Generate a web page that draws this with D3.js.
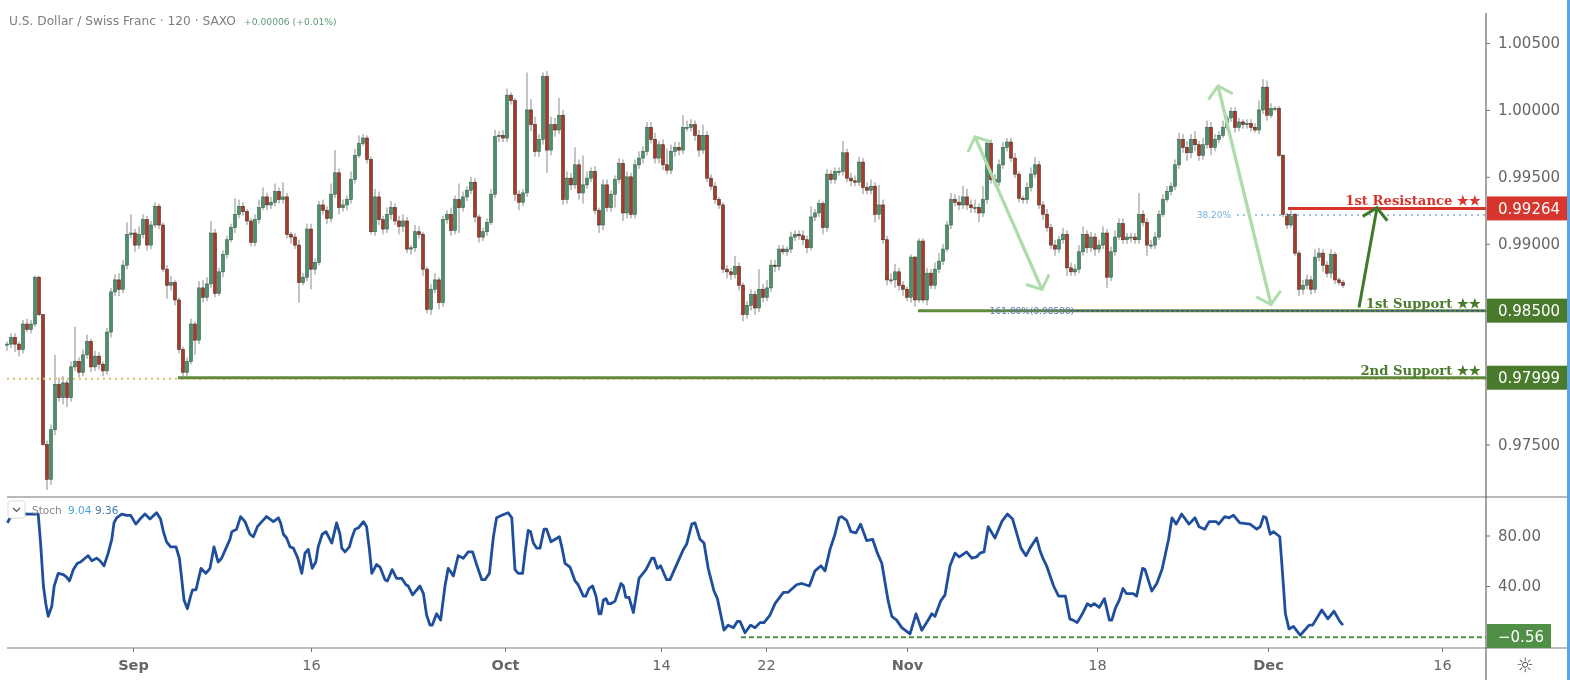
<!DOCTYPE html>
<html>
<head>
<meta charset="utf-8">
<title>USD/CHF</title>
<script src="https://cdn.jsdelivr.net/npm/d3@7"></script>
<style>
  html, body { margin: 0; padding: 0; background: #fff; overflow: hidden; }
  text { font-family: "DejaVu Sans", sans-serif; }
  /* the source is a soft upscaled screenshot */
  svg { filter: blur(0.45px); }
</style>
</head>
<body>
<svg id="chart" width="1570" height="694"></svg>
<script>
// Candle closes, one per bar. Each bar opens at the previous close.
const closes = [
  .9825,.9830,.9825,.9821,.9840,.9836,.9840,.9875,.9847,.9750,
  .9724,.9761,.9795,.9785,.9796,.9785,.9808,.9812,.9804,.9817,
  .9827,.9808,.9816,.9810,.9805,.9834,.9864,.9873,.9866,.9884,
  .9907,.9908,.9899,.9907,.9918,.9899,.9914,.9928,.9914,.9881,
  .9869,.9871,.9858,.9821,.9804,.9812,.9840,.9828,.9867,.9860,
  .9870,.9908,.9863,.9879,.9892,.9903,.9912,.9922,.9928,.9924,
  .9917,.9901,.9918,.9927,.9935,.9929,.9931,.9939,.9933,.9935,
  .9907,.9905,.9899,.9871,.9875,.9911,.9881,.9886,.9929,.9925,
  .9919,.9937,.9953,.9927,.9929,.9933,.9948,.9966,.9975,.9979,
  .9963,.9909,.9935,.9918,.9911,.9922,.9927,.9917,.9913,.9917,
  .9896,.9897,.9909,.9907,.9881,.9851,.9866,.9873,.9856,.9918,
  .9922,.9910,.9933,.9927,.9935,.9940,.9946,.9920,.9905,.9909,
  .9916,.9937,.9980,.9981,.9979,1.0011,1.0007,.9937,.9931,.9938,
  1.0000,.9989,.9969,.9978,1.0025,.9970,.9989,.9985,.9996,.9933,
  .9949,.9944,.9959,.9938,.9944,.9949,.9954,.9925,.9914,.9944,
  .9927,.9937,.9948,.9960,.9923,.9950,.9922,.9959,.9964,.9969,
  .9987,.9978,.9964,.9974,.9959,.9955,.9969,.9972,.9970,.9987,
  .9987,.9989,.9981,.9970,.9981,.9949,.9943,.9933,.9929,.9881,
  .9879,.9877,.9883,.9869,.9847,.9854,.9862,.9852,.9866,.9860,
  .9867,.9884,.9883,.9896,.9894,.9896,.9905,.9907,.9906,.9903,
  .9897,.9920,.9923,.9930,.9912,.9952,.9948,.9954,.9954,.9968,
  .9949,.9947,.9946,.9961,.9942,.9940,.9943,.9922,.9929,.9903,
  .9873,.9873,.9879,.9869,.9866,.9860,.9890,.9858,.9902,.9858,
  .9878,.9869,.9881,.9887,.9896,.9914,.9933,.9931,.9929,.9935,
  .9929,.9927,.9927,.9923,.9933,.9975,.9948,.9946,.9959,.9972,
  .9976,.9964,.9952,.9934,.9933,.9942,.9952,.9959,.9929,.9922,
  .9912,.9899,.9896,.9903,.9907,.9882,.9879,.9881,.9894,.9907,
  .9897,.9905,.9896,.9899,.9908,.9875,.9894,.9905,.9915,.9903,
  .9905,.9905,.9903,.9922,.9916,.9899,.9899,.9905,.9922,.9933,
  .9939,.9943,.9959,.9978,.9972,.9968,.9978,.9974,.9966,.9974,
  .9987,.9972,.9978,.9981,.9987,.9994,.9999,.9987,.9991,.9989,
  .9990,.9987,.9985,1.0000,1.0017,.9996,1.0001,1.0001,.9966,.9922,
  .9914,.9922,.9893,.9866,.9869,.9873,.9866,.9890,.9893,.9884,
  .9878,.9892,.9873,.9871,.9869
];
// Upper and lower wick lengths in pips, bar by bar.
const wickUp = [
  2,3,3,2,3,4,3,1,1,0, 3,4,22,5,5,2,4,26,3,4, 5,2,4,3,2,3,3,4,5,4,
  9,14,3,6,4,3,3,3,2,2, 3,5,2,2,2,3,4,2,5,6, 5,9,3,3,3,3,3,12,5,3,
  2,2,4,6,7,3,4,6,3,11, 3,2,3,4,3,4,4,3,3,4, 3,8,17,3,4,3,6,5,6,3,
  2,2,6,4,3,5,5,3,4,5, 3,2,5,4,2,2,4,5,2,3, 3,5,3,12,4,3,4,3,2,3,
  3,4,5,3,4,5,2,2,3,3, 28,8,6,4,3,4,6,5,13,4, 5,4,13,4,22,5,3,4,2,4,
  4,3,3,4,3,4,3,4,5,4, 4,4,5,3,4,12,5,4,4,9, 5,4,3,4,8,3,3,3,2,2,
  3,3,8,3,2,3,4,3,15,4, 6,4,4,3,3,2,4,3,3,4, 3,8,3,3,2,4,3,3,3,9,
  3,4,4,4,3,4,5,3,15,4, 3,5,6,3,3,2,2,1,2,2, 4,3,5,6,4,3,5,4,5,8,
  6,4,6,3,10,2,3,4,4,4, 3,3,4,2,2,4,5,6,3,3, 4,3,4,3,5,3,4,4,5,6,
  3,4,3,4,5,3,4,5,4,4, 3,3,3,16,3,3,4,4,3,4, 4,3,4,5,4,5,4,6,3,5,
  5,4,4,3,5,2,3,3,3,2, 3,3,3,7,6,5,4,2,2,1, 1,3,1,2,4,4,3,6,4,3,
  3,4,2,2,2
];
const wickDown = [
  5,3,6,5,3,2,3,2,1,1, 8,4,4,3,5,7,3,3,4,3, 3,4,3,4,4,3,4,3,5,3,
  3,3,5,3,3,4,3,2,3,2, 10,4,4,3,3,3,2,11,3,4, 3,3,3,2,4,3,2,4,3,3,
  3,3,3,3,2,4,3,3,3,3, 3,5,3,15,2,3,15,4,2,3, 4,3,3,5,3,4,3,3,2,2,
  3,2,3,4,4,3,4,3,6,4, 3,4,3,3,5,3,4,3,5,3, 3,4,3,19,3,3,3,4,4,3,
  3,2,3,4,3,3,3,5,6,3, 3,5,4,4,4,17,4,5,3,4, 3,4,3,5,8,3,3,3,6,4,
  3,3,10,3,6,4,3,3,3,4, 3,3,4,4,4,3,3,4,4,3, 3,3,4,5,3,3,3,3,3,3,
  5,4,3,4,5,3,4,5,3,4, 3,3,4,3,2,3,3,3,3,4, 4,2,3,3,5,3,3,3,3,3,
  3,4,3,3,5,3,3,6,4,3, 4,3,6,4,5,3,4,5,2,2, 4,3,3,3,3,2,3,3,4,3,
  4,4,4,7,3,3,3,3,3,3, 3,3,3,3,3,3,3,3,3,4, 3,3,5,3,3,6,3,3,3,3,
  4,3,5,3,3,8,3,3,2,3, 3,4,3,3,3,8,3,3,2,2, 2,3,3,3,4,6,4,5,4,3,
  3,6,3,3,2,2,3,4,3,3, 3,3,2,3,3,4,2,2,1,2, 3,2,2,5,4,3,4,3,3,5,
  3,4,3,2,2
];

// Stochastic line: bar position and value
const stochBars = [
  .1,.75,3.25,4.9,6.6,7.8,8.4,9.1,9.7,10.3,11.2,11.8,12.8,14.1,14.9,15.6,16.6,17.6,18.4,19.5,
  20.3,21.2,22.4,23.25,24.25,25.3,26.2,26.75,27.4,28.7,29.9,30.9,32.2,33.25,34.5,35.75,37.4,38.4,39.1,39.9,
  40.9,42.25,43.1,43.7,44.25,45.1,45.9,46.4,47.25,48.5,49.7,50.75,51.75,52.8,53.65,54.9,55.75,56.2,57.4,58.4,
  59.5,60.75,61.6,62.6,63.7,64.9,66.6,67.85,68.4,69.1,69.9,70.75,71.6,72.7,73.7,74.5,75.3,76.3,77.2,77.8,
  78.8,79.75,81.2,82.4,83.25,83.7,84.5,85.6,86.2,87,87.85,89.1,89.9,90.6,91.2,92.4,93.25,94.5,95.1,96.3,
  97.4,98.7,99.75,100.3,101.4,103.25,104.1,104.9,105.75,106.3,107.4,108.4,109.5,110.3,111.6,112.8,114.1,115.3,116.4,117.4,
  118.7,119.5,120.6,121.6,122.4,123.7,125.3,126.2,127,127.8,128.9,129.5,130.3,130.9,131.6,132.4,133.25,134.25,134.9,136,
  138.1,138.7,139.5,140.75,142,142.8,144.1,144.7,145.5,146.4,147.25,148,148.5,149.1,149.75,150.3,150.9,152,153.5,154.1,
  154.7,155.5,156.6,158,159.75,161.2,161.75,162.6,163.4,164.9,165.75,167,169.1,169.9,171.2,172,173.25,174.25,175.3,176.75,
  177.6,178.4,179.25,180.3,181.6,182.6,183.25,184.5,185.9,187,188.25,189.25,190.75,192,194.1,195.3,197.4,198.7,200.6,202,
  203.5,204.5,205.75,207,208,208.7,209.9,211,212.25,213.4,214.9,216.4,217.6,218.7,220.3,221.2,222.4,223.7,225.75,227.25,
  228.7,230.3,231.2,232,233.4,234.5,235.75,237,238.1,239.9,241.2,242.4,243.25,244.25,245.3,247,248.7,250.1,251.4,252.4,
  253.5,254.75,255.75,257.4,258.25,259.1,259.9,261.65,262.9,264.6,265.7,266.5,267.55,268.85,270.1,270.95,271.8,273.05,274.35,275.6,
  276.2,277.05,278.1,279,279.85,281.55,282.4,283.9,284.5,286.2,287.45,288.75,290.4,291.25,292.3,293.65,295.5,297,298,299.45,
  300.55,302.3,302.9,304.45,305.5,306.65,308.2,310.75,312.45,313.3,314.15,314.8,315.8,316.65,318.2,318.75,319.6,320.5,321.6,323.3,
  325.55,326.4,328.7,330.2,331.75,333.2,334
];
const stochValues = [
  90,94,98,97,97,97,74,40,26,16,24,40,50,49,47,44,53,58,59,62,
  64,60,62,60,56,66,77,90,94,97,96,96,89,93,97,93,98,93,83,75,
  71,71,62,45,29,22,32,37,37,54,50,54,71,59,62,71,77,83,85,95,
  91,81,79,87,91,95,91,94,90,81,78,71,70,62,50,66,69,54,59,71,
  81,83,74,90,81,70,67,71,78,85,86,91,87,69,50,57,55,45,44,53,
  46,46,41,40,33,40,34,17,9,9,18,13,40,54,48,64,62,67,67,57,
  45,45,50,79,94,96,98,94,53,50,50,66,84,83,74,70,70,85,85,75,
  79,71,58,55,44,41,32,32,38,40,32,18,18,29,30,26,26,28,42,40,
  31,31,19,46,53,62,62,54,56,45,45,54,69,73,89,90,77,74,54,36,
  30,18,5,9,7,12,12,3,9,7,11,11,17,26,35,35,41,42,40,52,
  56,52,69,81,94,95,92,83,82,89,76,77,66,58,28,16,13,7,2,18,
  5,13,18,16,28,33,56,66,63,67,62,63,66,67,87,78,91,97,93,82,
  70,64,70,78,68,61,56,40,32,32,14,13,11,18,26,24,26,23,30,13,
  13,22,29,38,34,34,32,54,53,36,42,53,77,94,89,97,89,94,87,85,
  91,91,89,95,94,96,90,89,85,87,95,94,81,83,79,56,18,6,8,1,
  9,9,21,14,20,12,9
];

// Axis ticks
const priceTicks = [1.005, 1, 0.995, 0.99, 0.985, 0.98, 0.975];
const stochTicks = [40, 80];
const dateLabels = ['Sep', '16', 'Oct', '14', '22', 'Nov', '18', 'Dec', '16'];
const dateBars = [31.5, 76, 124.5, 163.5, 189.75, 225, 272.5, 315.25, 358.75];

// Price levels drawn on the chart
const resistance = 0.99264;
const support1 = 0.985;
const support2 = 0.97999;
const fib382 = 0.99215;
const stochLevel = -0.56;
const lastBar = 369.75;

// Arrows: [fromBar, fromPrice, toBar, toPrice, style]
const arrows = [
  [258.75, 0.98658, 242, 0.99799, 'light'],
  [242, 0.99799, 258.75, 0.98658, 'light'],
  [316, 0.98546, 302.75, 1.00179, 'light'],
  [302.75, 1.00179, 316, 0.98546, 'light'],
  [338, 0.98523, 342.5, 0.99269, 'dark']
];

const COLORS = {
  up: '#4f8f6e', upEdge: '#35644d',
  down: '#a63b2c', downEdge: '#55291f',
  wick: '#8a8a8a',
  red: '#d8352c',
  green: '#4a7a2c',
  olive: '#5f8a3a',
  stoch: '#1f4e9c',
  stochGreen: '#4f8f46',
  axisText: '#666'
};

const svg = d3.select('#chart');

const xScale = d3.scaleLinear().domain([0, lastBar]).range([7, 1486]);
const yScale = d3.scaleLinear().domain([0.975, 1.005]).range([444.5, 43]);
const yStoch = d3.scaleLinear().domain([0, 80]).range([636.5, 535.5]);

// Pane separators and right edge
svg.append('rect').attr('x', 1567).attr('y', 0).attr('width', 3).attr('height', 680).attr('fill', '#5aa5e6');
svg.append('line').attr('x1', 7).attr('x2', 1567).attr('y1', 497).attr('y2', 497)
  .attr('stroke', '#b9b9b9').attr('stroke-width', 2);
svg.append('line').attr('x1', 7).attr('x2', 1567).attr('y1', 648).attr('y2', 648)
  .attr('stroke', '#a8a8a8').attr('stroke-width', 1.5);

// Candles
const candles = closes.map((c, i) => {
  const o = i === 0 ? c : closes[i - 1];
  return {
    i, open: o, close: c,
    high: Math.max(o, c) + wickUp[i] / 10000,
    low: Math.min(o, c) - wickDown[i] / 10000
  };
});

svg.append('g').selectAll('line')
  .data(candles)
  .join('line')
  .attr('x1', d => xScale(d.i))
  .attr('x2', d => xScale(d.i))
  .attr('y1', d => yScale(d.high))
  .attr('y2', d => yScale(d.low))
  .attr('stroke', COLORS.wick)
  .attr('stroke-width', 1);

svg.append('g').selectAll('rect')
  .data(candles)
  .join('rect')
  .attr('x', d => xScale(d.i) - 1.5)
  .attr('width', 3)
  .attr('y', d => yScale(Math.max(d.open, d.close)))
  .attr('height', d => Math.max(1, Math.abs(yScale(d.open) - yScale(d.close))))
  .attr('fill', d => d.close >= d.open ? COLORS.up : COLORS.down)
  .attr('stroke', d => d.close >= d.open ? COLORS.upEdge : COLORS.downEdge)
  .attr('stroke-width', 0.6);

// Levels
const level = (bar0, bar1, price, color, width, dash) => svg.append('line')
  .attr('x1', xScale(bar0)).attr('x2', xScale(bar1))
  .attr('y1', yScale(price)).attr('y2', yScale(price))
  .attr('stroke', color).attr('stroke-width', width)
  .attr('stroke-dasharray', dash || null);

level(0, lastBar, support2 - 0.00008, '#dcbc6e', 2, '2,4');
level(42.75, lastBar, support2, COLORS.olive, 3);
level(227.75, lastBar, support1, COLORS.olive, 3);
level(266, lastBar, support1, '#3d4f9a', 1.5, '3,2');
level(320.25, lastBar, resistance, COLORS.red, 3);
level(307.5, lastBar, fib382, '#9cc6ea', 2, '2,4');

svg.append('text')
  .attr('x', xScale(306)).attr('y', yScale(fib382) + 3.5)
  .attr('text-anchor', 'end').attr('font-size', 9).attr('fill', '#7ab0dc')
  .text('38.20%');
svg.append('text')
  .attr('x', xScale(256.25)).attr('y', yScale(support1) + 3.5)
  .attr('text-anchor', 'middle').attr('font-size', 9).attr('fill', '#6070b8')
  .text('161.80%(0.98500)');

// Arrow heads
const defs = svg.append('defs');
[['light', '#aedcab'], ['dark', '#3f7a2a']].forEach(([name, color]) => {
  defs.append('marker')
    .attr('id', 'head-' + name)
    .attr('markerUnits', 'userSpaceOnUse')
    .attr('markerWidth', 32).attr('markerHeight', 32)
    .attr('refX', 15).attr('refY', 15)
    .attr('orient', 'auto')
    .append('path')
    .attr('d', 'M4,2.5 L15,15 L4,27.5')
    .attr('fill', 'none').attr('stroke', color).attr('stroke-width', 3);
});

svg.append('g').selectAll('line')
  .data(arrows)
  .join('line')
  .attr('x1', d => xScale(d[0])).attr('y1', d => yScale(d[1]))
  .attr('x2', d => xScale(d[2])).attr('y2', d => yScale(d[3]))
  .attr('stroke', d => d[4] === 'light' ? '#aedcab' : '#3f7a2a')
  .attr('stroke-width', 3)
  .attr('marker-end', d => `url(#head-${d[4]})`);

// Stochastic
const stochLine = d3.line().x(d => xScale(d[0])).y(d => yStoch(d[1]));
svg.append('path')
  .datum(d3.zip(stochBars, stochValues))
  .attr('d', stochLine)
  .attr('fill', 'none')
  .attr('stroke', COLORS.stoch)
  .attr('stroke-width', 2.8)
  .attr('stroke-linejoin', 'round');

svg.append('line')
  .attr('x1', xScale(183.5)).attr('x2', xScale(lastBar))
  .attr('y1', yStoch(stochLevel)).attr('y2', yStoch(stochLevel))
  .attr('stroke', COLORS.stochGreen).attr('stroke-width', 2)
  .attr('stroke-dasharray', '5,3');

// Axes
const styleAxis = g => {
  g.selectAll('text').attr('fill', COLORS.axisText).style('font-family', '"DejaVu Sans", sans-serif');
  g.selectAll('.tick line').attr('stroke', '#777');
};

svg.append('g')
  .attr('transform', 'translate(1486,0)')
  .call(d3.axisRight(yScale).tickValues(priceTicks).tickFormat(d3.format('.5f')).tickSize(4).tickPadding(8))
  .call(g => g.select('.domain').remove())
  .call(g => g.selectAll('text').attr('font-size', 15))
  .call(styleAxis);

svg.append('g')
  .attr('transform', 'translate(1486,0)')
  .call(d3.axisRight(yStoch).tickValues(stochTicks).tickFormat(d3.format('.2f')).tickSize(4).tickPadding(8))
  .call(g => g.select('.domain').remove())
  .call(g => g.selectAll('text').attr('font-size', 15))
  .call(styleAxis);

svg.append('g')
  .attr('transform', 'translate(0,648)')
  .call(d3.axisBottom(xScale).tickValues(dateBars).tickFormat((d, i) => dateLabels[i]).tickSize(4).tickPadding(8))
  .call(g => g.select('.domain').remove())
  .call(g => g.selectAll('text').attr('font-size', 14.5)
    .attr('font-weight', (d, i) => /[A-Za-z]/.test(dateLabels[i]) ? 'bold' : 'normal'))
  .call(styleAxis);

svg.append('line').attr('x1', 1486).attr('x2', 1486).attr('y1', 13).attr('y2', 680)
  .attr('stroke', '#666').attr('stroke-width', 1.2);

// Price tags on the axis
const tags = [
  [resistance, d3.format('.5f')(resistance), COLORS.red],
  [support1, d3.format('.5f')(support1), COLORS.green],
  [support2, d3.format('.5f')(support2), COLORS.green]
];
tags.forEach(([price, label, color]) => {
  svg.append('rect')
    .attr('x', 1487).attr('y', yScale(price) - 12)
    .attr('width', 80).attr('height', 24).attr('fill', color);
  svg.append('text')
    .attr('x', 1498).attr('y', yScale(price) + 5.5)
    .attr('font-size', 15).attr('fill', '#fff')
    .text(label);
});
svg.append('rect')
  .attr('x', 1487).attr('y', 624).attr('width', 64).attr('height', 24)
  .attr('fill', COLORS.stochGreen);
svg.append('text')
  .attr('x', 1498).attr('y', yStoch(stochLevel) + 5)
  .attr('font-size', 15).attr('fill', '#fff')
  .text('\u22120.56');

// Level names
const names = [
  ['1st Resistance \u2605\u2605', resistance, COLORS.red, -3],
  ['1st Support \u2605\u2605', support1, COLORS.green, -3],
  ['2nd Support \u2605\u2605', support2, COLORS.green, -3]
];
names.forEach(([label, price, color, dy]) => {
  svg.append('text')
    .attr('x', 1481).attr('y', yScale(price) + dy)
    .attr('text-anchor', 'end')
    .attr('font-size', 13.2).attr('font-weight', 'bold').attr('fill', color)
    .style('font-family', '"DejaVu Serif", serif')
    .text(label);
});

// Legends
svg.append('text').attr('x', 9).attr('y', 25).attr('font-size', 12.2).attr('fill', '#7d7d7d')
  .text('U.S. Dollar / Swiss Franc \u00b7 120 \u00b7 SAXO');
svg.append('text').attr('x', 244).attr('y', 25).attr('font-size', 9.2).attr('fill', '#5f9a78')
  .text('+0.00006 (+0.01%)');

svg.append('rect').attr('x', 8).attr('y', 501).attr('width', 17).attr('height', 17).attr('rx', 2)
  .attr('fill', '#fff').attr('stroke', '#ddd');
svg.append('path').attr('d', 'M13,508 L16.5,511.5 L20,508').attr('fill', 'none').attr('stroke', '#555').attr('stroke-width', 1.2);
svg.append('text').attr('x', 32).attr('y', 514).attr('font-size', 10.5).attr('fill', '#888').text('Stoch');
svg.append('text').attr('x', 68).attr('y', 514).attr('font-size', 10.5).attr('fill', '#4aa3df').text('9.04');
svg.append('text').attr('x', 95).attr('y', 514).attr('font-size', 10.5).attr('fill', '#4a7aa8').text('9.36');

// Settings gear
svg.append('text').attr('x', 1525).attr('y', 672).attr('text-anchor', 'middle')
  .attr('font-size', 20).attr('fill', '#555').text('\u263c');
</script>
</body>
</html>
